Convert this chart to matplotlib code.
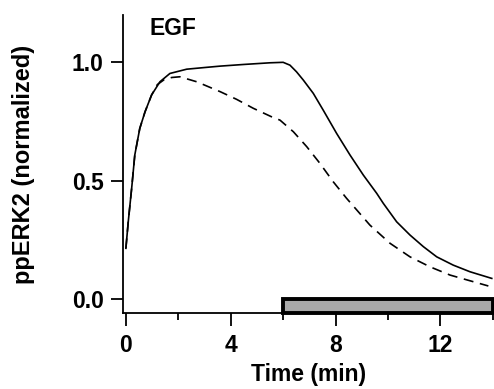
import matplotlib
matplotlib.use("Agg")
import matplotlib.pyplot as plt
from matplotlib.patches import Rectangle
from matplotlib.ticker import MultipleLocator

plt.rcParams['font.family'] = ['Liberation Sans', 'DejaVu Sans']

# solid curve
t_solid = [0.0, 0.09, 0.22, 0.34, 0.53, 0.73, 0.98, 1.30, 1.68, 2.32, 3.0, 3.6, 4.5, 5.5,
           6.0, 6.26, 6.51, 6.77, 7.15, 7.53, 8.04, 8.55, 9.06, 9.57, 9.82, 10.33, 10.84,
           11.35, 11.86, 12.49, 13.13, 13.96]
y_solid = [0.214, 0.326, 0.467, 0.608, 0.72, 0.79, 0.861, 0.917, 0.952, 0.97, 0.977, 0.983,
           0.99, 0.997, 0.999, 0.987, 0.959, 0.924, 0.868, 0.797, 0.699, 0.608, 0.523, 0.446,
           0.404, 0.326, 0.270, 0.221, 0.178, 0.143, 0.115, 0.087]

# dashed curve
t_dash = [0.0, 0.09, 0.22, 0.34, 0.53, 0.73, 0.98, 1.20, 1.45, 1.75, 2.06, 2.7, 3.6, 4.22,
          4.86, 5.56, 5.88, 6.39, 6.9, 7.4, 7.91, 8.42, 8.87, 9.31, 10.08, 10.84, 11.6,
          12.37, 13.13, 13.83]
y_dash = [0.214, 0.326, 0.467, 0.608, 0.72, 0.79, 0.861, 0.905, 0.925, 0.935, 0.938, 0.917,
          0.875, 0.843, 0.805, 0.769, 0.755, 0.706, 0.643, 0.573, 0.495, 0.425, 0.368, 0.312,
          0.235, 0.178, 0.136, 0.101, 0.077, 0.055]

bar_start, bar_end = 6, 14

fig = plt.figure(figsize=(4.94, 3.89), dpi=100)
ax = fig.add_axes([0.249, 0.1954, 0.7486, 0.7656])

ax.plot(t_solid, y_solid, color='black', lw=1.2, solid_joinstyle='round')
ax.plot(t_dash, y_dash, color='black', lw=1.2, dashes=(6, 4), dash_joinstyle='round')

ax.set_xlim(-0.11, 14)
ax.set_ylim(-0.059, 1.198)

ax.add_patch(Rectangle((bar_start, -0.059), bar_end - bar_start, 0.059,
                       facecolor='#a9a9a9', edgecolor='black', lw=2.8, clip_on=False,
                       zorder=5, joinstyle='miter'))

for s in ['top', 'right']:
    ax.spines[s].set_visible(False)
for s in ['left', 'bottom']:
    ax.spines[s].set_linewidth(1.3)

ax.set_xticks([0, 4, 8, 12])
ax.xaxis.set_minor_locator(MultipleLocator(2))
ax.set_yticks([0.0, 0.5, 1.0])
ax.set_yticklabels(['0.0', '0.5', '1.0'])
ax.tick_params(axis='both', which='major', length=9, width=1.3, labelsize=16.5)
ax.tick_params(axis='x', which='major', pad=6)
ax.tick_params(axis='y', which='major', pad=5)
ax.tick_params(axis='x', which='minor', length=5, width=1.3)
for lab in ax.get_xticklabels() + ax.get_yticklabels():
    lab.set_fontweight('bold')

ax.set_xlabel('Time (min)', fontsize=16.5, fontweight='bold')
ax.xaxis.set_label_coords(0.503, -0.168)
ax.set_ylabel('ppERK2 (normalized)', fontsize=17, fontweight='bold')
ax.yaxis.set_label_coords(-0.238, 0.5)

ax.text(0.9, 1.19, 'EGF', fontsize=16.5, fontweight='bold', va='top', ha='left')

fig.savefig('out.png', dpi=100)
